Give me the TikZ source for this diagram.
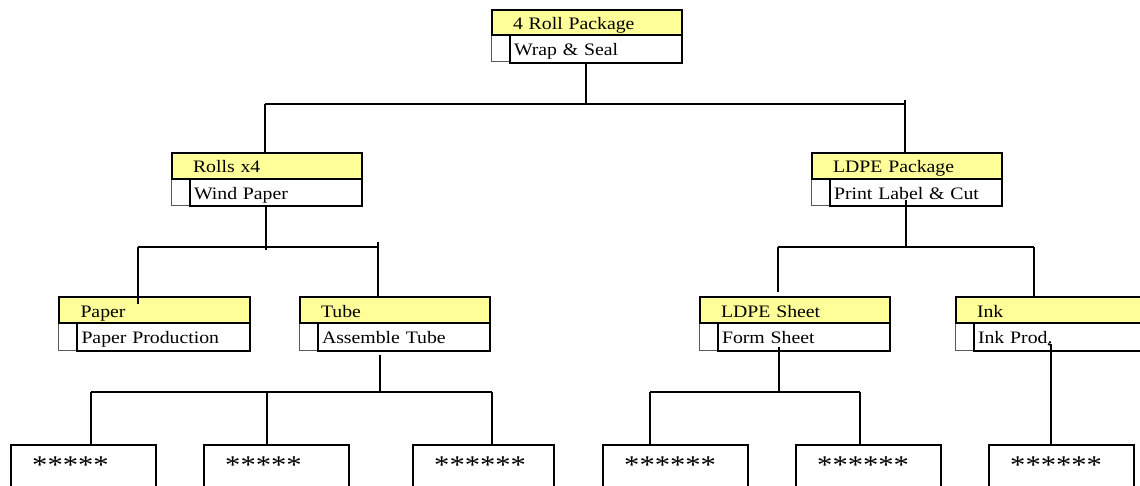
\documentclass[tikz,border=0pt]{standalone}
\usepackage{fontspec}
\setmainfont[FakeStretch=1.13]{Liberation Serif}
\newfontfamily\starfont[FakeStretch=1.2]{Liberation Serif}
\definecolor{hdr}{RGB}{255,255,153}
\definecolor{sqline}{RGB}{90,90,90}
\tikzset{
  ybox/.style={draw, line width=2pt, fill=hdr, anchor=north west, minimum height=26pt,
    inner xsep=21pt, inner ysep=0pt, text width=148pt, align=left,
    text height=14pt, text depth=0pt,
    font=\fontsize{17.5}{18}\selectfont},
  wbox/.style={draw, line width=2pt, fill=white, anchor=north west, minimum height=27.5pt,
    inner xsep=4pt, inner ysep=0pt, text width=164pt, align=left,
    text height=14pt, text depth=0pt,
    font=\fontsize{17.5}{18}\selectfont},
  sqbox/.style={draw=sqline, line width=0.9pt, fill=white, anchor=north west,
    minimum width=18pt, minimum height=27.5pt, inner sep=0pt},
  sbox/.style={draw, line width=2pt, fill=white, anchor=north west,
    minimum width=145pt, minimum height=70pt, inner sep=0pt},
  stars/.style={anchor=base west, inner sep=0pt, font=\starfont\fontsize{25.5}{28}\selectfont},
  conn/.style={draw, line width=1.8pt}
}
\begin{document}
\begin{tikzpicture}[x=1pt,y=-1pt]
\useasboundingbox (0,0) rectangle (1140,486);
\fill[white] (0,0) rectangle (1140,486);
\clip (0,0) rectangle (1140,486);

% ---- headers ----
% 4 Roll Package
\node[sqbox] (topq) at (491,34) {};
\node[wbox, minimum width=172pt, minimum height=28pt] (topw) at (509,34) {Wrap \& Seal};
\node[ybox, minimum width=190pt, minimum height=25pt] (top) at (491,9) {4 Roll Package};
% Rolls x4
\node[sqbox] (rollsq) at (171,178) {};
\node[wbox, minimum width=172pt] (rollsw) at (189,178) {Wind Paper};
\node[ybox, minimum width=190pt] (rolls) at (171,152) {Rolls x4};
% LDPE Package
\node[sqbox] (ldpeq) at (811,178) {};
\node[wbox, minimum width=172pt] (ldpew) at (829,178) {Print Label \& Cut};
\node[ybox, minimum width=190pt] (ldpe) at (811,152) {LDPE Package};
% Paper
\node[sqbox] (paperq) at (58,322) {};
\node[wbox, minimum width=173pt] (paperw) at (76,322) {Paper Production};
\node[ybox, minimum width=191pt] (paper) at (58,296) {Paper};
% Tube
\node[sqbox] (tubeq) at (299,322) {};
\node[wbox, minimum width=171pt] (tubew) at (317,322) {Assemble Tube};
\node[ybox, minimum width=189pt] (tube) at (299,296) {Tube};
% LDPE Sheet
\node[sqbox] (sheetq) at (699,322) {};
\node[wbox, minimum width=172pt] (sheetw) at (717,322) {Form Sheet};
\node[ybox, minimum width=190pt] (sheet) at (699,296) {LDPE Sheet};
% Ink
\node[sqbox] (inkq) at (955,322) {};
\node[wbox, minimum width=200pt, text width=192pt] (inkw) at (973,322) {Ink Prod.};
\node[ybox, minimum width=210pt, text width=168pt] (ink) at (955,296) {Ink};

% ---- star boxes ----
\node[sbox] (s1) at (10,444) {};
\node[sbox] (s2) at (203,444) {};
\node[sbox, minimum width=141pt] (s3) at (412,444) {};
\node[sbox] (s4) at (602,444) {};
\node[sbox] (s5) at (795,444) {};
\node[sbox] (s6) at (988,444) {};
\node[stars] at ([shift={(22pt,-29pt)}]s1.north west) {*****};
\node[stars] at ([shift={(22pt,-29pt)}]s2.north west) {*****};
\node[stars] at ([shift={(22pt,-29pt)}]s3.north west) {******};
\node[stars] at ([shift={(22pt,-29pt)}]s4.north west) {******};
\node[stars] at ([shift={(22pt,-29pt)}]s5.north west) {******};
\node[stars] at ([shift={(22pt,-29pt)}]s6.north west) {******};

% ---- connectors ----
% from 4 Roll Package
\coordinate (a1) at (586,104);
\coordinate (a2) at (265,104);
\coordinate (a3) at (905,104);
\draw[conn] (a1 |- topw.south) -- (a1);
\draw[conn] (a2) -- (a3);
\draw[conn] (a2) -- (a2 |- rolls.north);
\draw[conn] ([yshift=4pt]a3) -- (a3 |- ldpe.north);
% from Rolls x4
\coordinate (b1) at (266,247);
\coordinate (b2) at (138,247);
\coordinate (b3) at (378,247);
\draw[conn] (b1 |- rollsw.south) -- ([yshift=-3pt]b1);
\draw[conn] (b2) -- (b3);
\draw[conn] (b2) -- ([yshift=-8pt]b2 |- paper.north);
\draw[conn] ([yshift=5pt]b3) -- (b3 |- tube.north);
% from LDPE Package
\coordinate (c1) at (906,247);
\coordinate (c2) at (778,247);
\coordinate (c3) at (1034,247);
\draw[conn] ([yshift=7.5pt]c1 |- ldpew.south) -- (c1);
\draw[conn] (c2) -- (c3);
\draw[conn] (c2) -- ([yshift=4pt]c2 |- sheet.north);
\draw[conn] (c3) -- (c3 |- ink.north);
% from Tube
\coordinate (d1) at (380,392);
\coordinate (d2) at (91,392);
\coordinate (d3) at (267,392);
\coordinate (d4) at (492,392);
\draw[conn] ([yshift=-3pt]d1 |- tubew.south) -- (d1);
\draw[conn] (d2) -- (d4);
\draw[conn] (d2) -- (d2 |- s1.north);
\draw[conn] (d3) -- (d3 |- s2.north);
\draw[conn] (d4) -- (d4 |- s3.north);
% from LDPE Sheet
\coordinate (e1) at (779,392);
\coordinate (e2) at (650,392);
\coordinate (e3) at (860,392);
\draw[conn] ([yshift=5pt]e1 |- sheetw.south) -- (e1);
\draw[conn] (e2) -- (e3);
\draw[conn] (e2) -- (e2 |- s4.north);
\draw[conn] (e3) -- (e3 |- s5.north);
% from Ink
\coordinate (f0) at (1051,345);
\draw[conn] ([shift={(-3pt,1pt)}]f0) -- (f0) -- (f0 |- s6.north);
\end{tikzpicture}
\end{document}
